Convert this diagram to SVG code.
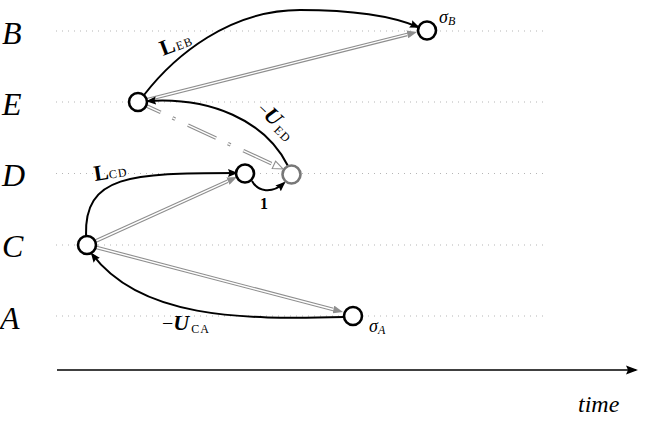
<svg xmlns="http://www.w3.org/2000/svg" width="664" height="439" viewBox="0 0 664 439">
<defs>
<style>
.grid{stroke:#b5b5b5;stroke-width:1;stroke-dasharray:1 5;fill:none}
.row{font-family:"Liberation Serif","DejaVu Serif",serif;font-style:italic;font-size:32px;fill:#000}
.node{fill:#fff;stroke:#000;stroke-width:2.6}
.node.grey{stroke:#777}
.cur{fill:none;stroke:#000;stroke-width:2;marker-end:url(#ah)}
.dbl-o{fill:none;stroke:#8e8e8e;stroke-width:3.6}
.dbl-i{fill:none;stroke:#fff;stroke-width:1.4}
.lab{font-family:"Liberation Serif","DejaVu Serif",serif;fill:#000}
.bf{font-weight:bold;font-size:22px}
.bi{font-weight:bold;font-style:italic;font-size:22px}
.sc{font-size:12px;letter-spacing:1px}
.it{font-style:italic}
</style>
<marker id="ah" viewBox="0 0 10 8" refX="8" refY="4" markerWidth="10" markerHeight="8" orient="auto" markerUnits="userSpaceOnUse"><path d="M0,0 L10,4 L0,8 L1.5,4 z" fill="#000"/></marker>
<marker id="ag" viewBox="0 0 10 8" refX="0" refY="4" markerWidth="10" markerHeight="8" orient="auto" markerUnits="userSpaceOnUse"><path d="M0,0 L10,4 L0,8 z" fill="#8e8e8e"/></marker>
<marker id="agx" viewBox="-1 -1 12 10" refX="0" refY="4" markerWidth="12" markerHeight="10" orient="auto" markerUnits="userSpaceOnUse"><path d="M0,0 L10,4 L0,8 z" fill="#fff" stroke="#8e8e8e" stroke-width="1.1"/></marker>
<marker id="ak" viewBox="0 0 12 10" refX="10" refY="5" markerWidth="12" markerHeight="10" orient="auto" markerUnits="userSpaceOnUse"><path d="M0,0.5 L12,5 L0,9.5 L2,5 z" fill="#000"/></marker>
</defs>
<rect width="664" height="439" fill="#fff"/>

<g id="rows">
<line class="grid" x1="56" y1="31" x2="546" y2="31"/>
<line class="grid" x1="56" y1="102" x2="546" y2="102"/>
<line class="grid" x1="56" y1="173.5" x2="546" y2="173.5"/>
<line class="grid" x1="56" y1="245" x2="546" y2="245"/>
<line class="grid" x1="56" y1="316" x2="546" y2="316"/>
<text class="row" x="2" y="44">B</text>
<text class="row" x="2" y="115">E</text>
<text class="row" x="2" y="186">D</text>
<text class="row" x="2" y="257">C</text>
<text class="row" x="0" y="329">A</text>
</g>

<g id="axis">
<line x1="57" y1="370" x2="636" y2="370" stroke="#000" stroke-width="1.6" marker-end="url(#ak)"/>
<text class="lab it" x="578" y="412" font-size="24">time</text>
</g>

<g id="connectors">
<path class="dbl-o" d="M138,102 L407.3,34.4" marker-end="url(#ag)"/>
<path class="dbl-i" d="M138,102 L407.3,34.4"/>
<path class="dbl-o" d="M87,245 L227.9,181.1" marker-end="url(#ag)"/>
<path class="dbl-i" d="M87,245 L227.9,181.1"/>
<path class="dbl-o" d="M87,245 L333.3,309.5" marker-end="url(#ag)"/>
<path class="dbl-i" d="M87,245 L333.3,309.5"/>
<path class="dbl-o" d="M138,102 L273.9,164.8" stroke-dasharray="31 13 3 14" stroke-dashoffset="6" marker-end="url(#agx)"/>
<path class="dbl-i" d="M138,102 L273.9,164.8" stroke-dasharray="31 13 3 14" stroke-dashoffset="6"/>
<path class="cur" d="M144,95 C175,55 230,10 300,10 C350,10 390,15 418,27"/>
<path class="cur" d="M288,166 C265,120 210,97 148,101"/>
<path class="cur" d="M86,236 C84,175 130,173 236,173"/>
<path class="cur" d="M252,181 C258,192 272,194 284,183"/>
<path class="cur" d="M344,317 C240,320 140,318 92,254"/>
</g>

<g id="node-B"><circle class="node" cx="427" cy="30.5" r="9"/></g>
<g id="node-E"><circle class="node" cx="138" cy="102" r="9"/></g>
<g id="node-D1"><circle class="node" cx="245" cy="173.5" r="9"/></g>
<g id="node-D2"><circle class="node grey" cx="291.5" cy="174.5" r="9"/></g>
<g id="node-C"><circle class="node" cx="87" cy="245" r="9"/></g>
<g id="node-A"><circle class="node" cx="353" cy="316" r="9"/></g>

<g id="labels">
<g transform="translate(163,56) rotate(-21)"><text class="lab"><tspan class="bf">L</tspan><tspan class="sc" dx="1">EB</tspan></text></g>
<g transform="translate(256,110) rotate(44)"><text class="lab"><tspan font-size="16">−</tspan><tspan class="bi">U</tspan><tspan class="sc" dx="2" dy="3">ED</tspan></text></g>
<g transform="translate(95,181) rotate(-9)"><text class="lab"><tspan class="bf" font-size="20">L</tspan><tspan class="sc" dx="0">CD</tspan></text></g>
<text class="lab" x="260" y="209" font-weight="bold" font-size="16">1</text>
<text class="lab" x="162" y="330"><tspan font-size="20">−</tspan><tspan class="bi">U</tspan><tspan class="sc" dx="2" dy="3">CA</tspan></text>
<text class="lab" x="439" y="23"><tspan class="it" font-size="18">σ</tspan><tspan class="it" font-size="12" dy="2">B</tspan></text>
<text class="lab" x="369" y="332"><tspan class="it" font-size="18">σ</tspan><tspan class="it" font-size="12" dy="2">A</tspan></text>
</g>
</svg>
